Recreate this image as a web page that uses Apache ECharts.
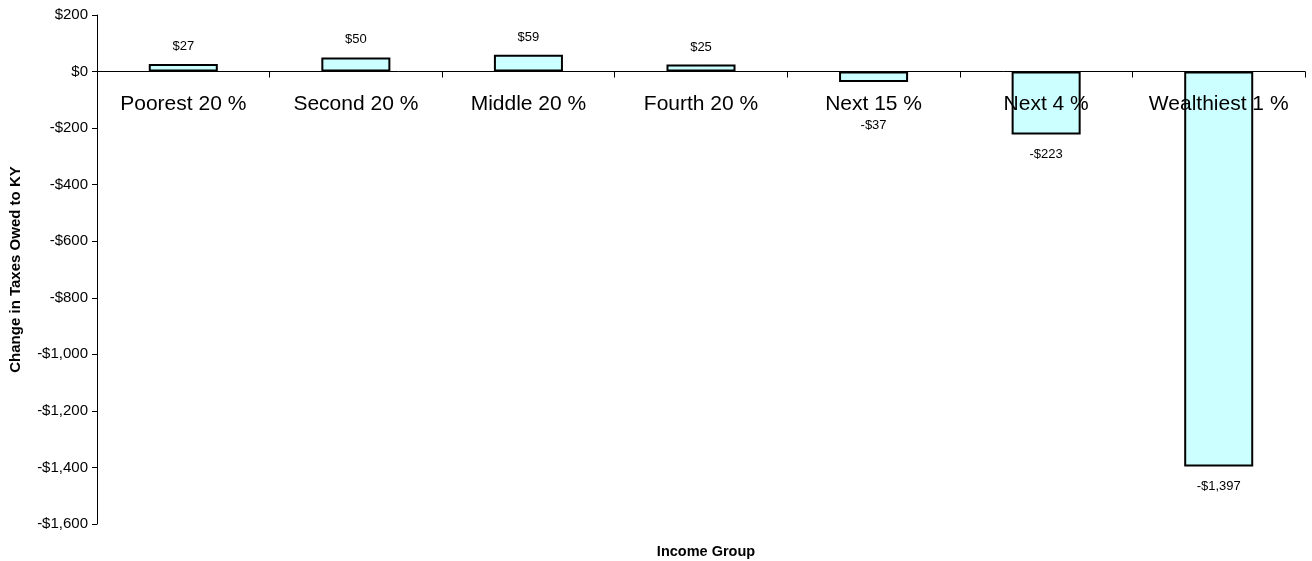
<!DOCTYPE html>
<html><head><meta charset="utf-8">
<script src="https://cdn.jsdelivr.net/npm/echarts@6/dist/echarts.min.js"></script>
<style>html,body{margin:0;padding:0;background:#fff}#c{width:1312px;height:561px}</style>
</head><body><div id="c"></div>
<script>
const categories = ["Poorest 20 %", "Second 20 %", "Middle 20 %", "Fourth 20 %", "Next 15 %", "Next 4 %", "Wealthiest 1 %"];
const values = [27, 50, 59, 25, -37, -223, -1397];
const yTicks = { min: -1600, max: 200, interval: 200 };

function money(v) {
  const a = Math.abs(v).toLocaleString('en-US');
  return (v < 0 ? '-$' : '$') + a;
}

const FONT = 'Liberation Sans, Arial, sans-serif';
const chart = echarts.init(document.getElementById('c'), null, {renderer: 'canvas'});
chart.setOption({
  animation: false,
  backgroundColor: '#ffffff',
  textStyle: { fontFamily: FONT },
  title: {
    text: 'Income Group', left: 701, top: 539, textAlign: 'center',
    textStyle: { fontSize: 14.5, fontWeight: 'bold', color: '#000', fontFamily: FONT }
  },
  grid: { left: 93, right: 7, top: 15, bottom: 37, containLabel: false },
  xAxis: {
    type: 'category', data: categories, z: 10,
    axisLine: { onZero: true, lineStyle: { color: '#000', width: 1 } },
    axisTick: { show: true, inside: false, length: 6, lineStyle: { color: '#000' } },
    axisLabel: { color: '#000', fontSize: 21, margin: -430, interval: 0, verticalAlign: 'top' },
    splitLine: { show: false }
  },
  yAxis: {
    type: 'value', min: yTicks.min, max: yTicks.max, interval: yTicks.interval,
    name: 'Change in Taxes Owed to KY', nameLocation: 'middle', nameGap: 74, nameRotate: 90,
    nameTextStyle: { fontSize: 15, fontWeight: 'bold', color: '#000' },
    axisLine: { show: true, lineStyle: { color: '#000', width: 1 } },
    axisTick: { show: true, length: 5, lineStyle: { color: '#000' } },
    axisLabel: { color: '#000', fontSize: 15, margin: 9, formatter: v => money(v) },
    splitLine: { show: false }
  },
  series: [{
    type: 'bar',
    barCategoryGap: '60%',
    data: values.map(v => ({
      value: v,
      label: { position: v < 0 ? 'bottom' : 'top', distance: (v < 0 && v > -100) ? 37 : (v < 0 ? 13 : 11) }
    })),
    itemStyle: { color: '#CCFFFF', borderColor: '#000', borderWidth: 2 },
    label: {
      show: true, fontSize: 13, color: '#000',
      formatter: p => money(p.value)
    }
  }]
});
</script>
</body></html>
